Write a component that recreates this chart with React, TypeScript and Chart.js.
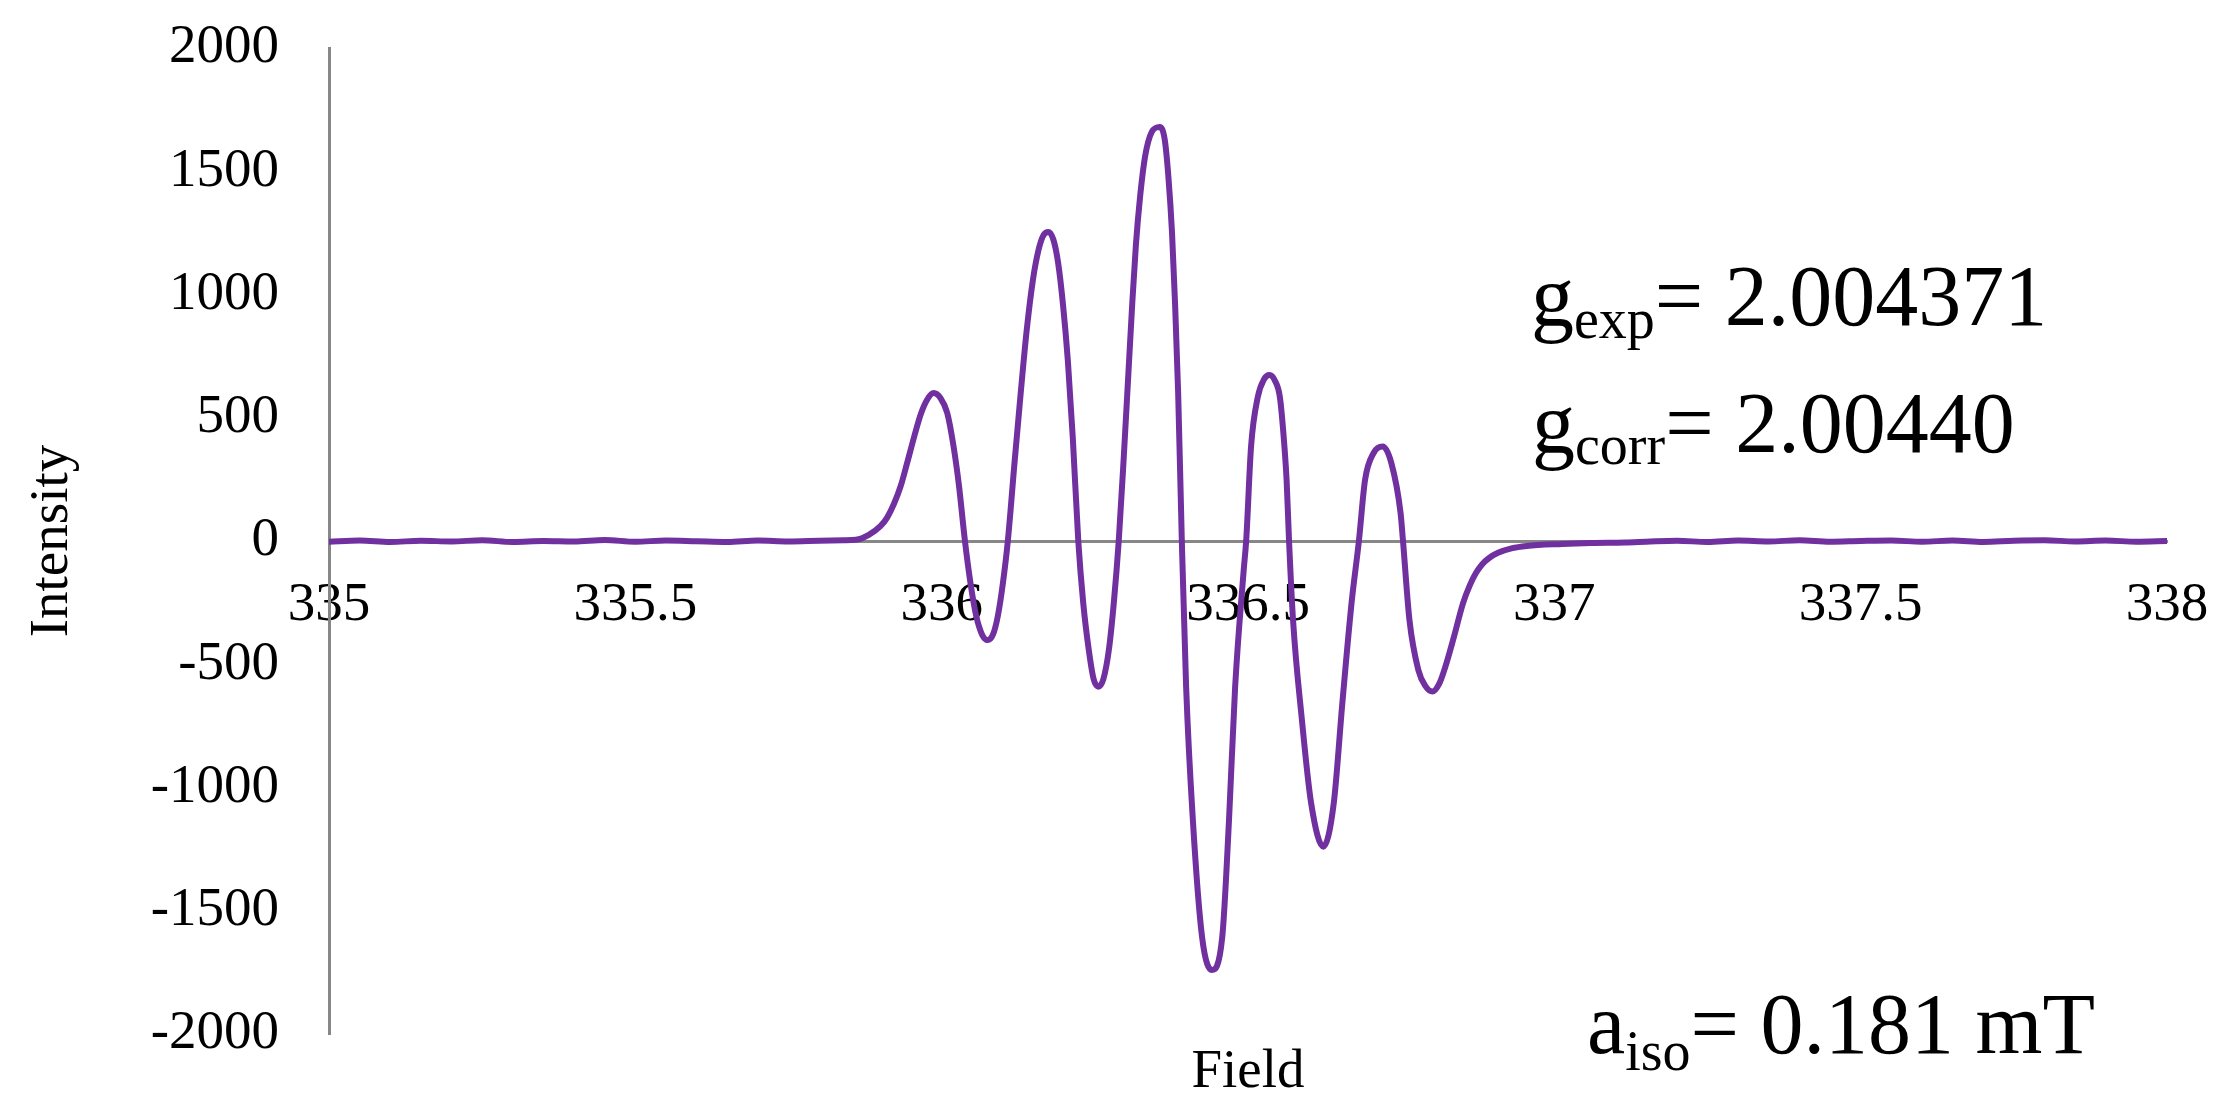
import React, { useEffect, useRef } from "react";
import { Chart, registerables } from "chart.js";

Chart.register(...registerables);

const SERIF = "'Times New Roman', 'Liberation Serif', serif";

// Magnetic field (mT)
const fieldValues = [
  335.0, 335.05, 335.1, 335.15, 335.2, 335.25, 335.3, 335.35, 335.4, 335.45,
  335.5, 335.55, 335.6, 335.65, 335.7, 335.75, 335.8, 335.84,
  335.86, 335.881, 335.9, 335.911, 335.922, 335.933, 335.944, 335.955, 335.966, 335.976,
  335.987, 335.998, 336.009, 336.019, 336.028, 336.038,
  336.047, 336.056, 336.066, 336.075, 336.084, 336.092, 336.1, 336.108,
  336.119, 336.129, 336.139, 336.149, 336.158, 336.166, 336.174, 336.182, 336.19, 336.198, 336.206, 336.214, 336.223,
  336.231, 336.24, 336.248, 336.256, 336.264, 336.273, 336.281, 336.289,
  336.297, 336.305, 336.311, 336.317, 336.324, 336.332, 336.343, 336.356, 336.364, 336.37, 336.376, 336.381, 336.386, 336.392,
  336.399, 336.41, 336.425, 336.441, 336.458, 336.469, 336.479, 336.493, 336.497,
  336.505, 336.516, 336.526, 336.535, 336.544, 336.552, 336.558, 336.563, 336.567,
  336.5735, 336.588, 336.603, 336.623, 336.64, 336.654, 336.669, 336.681,
  336.691, 336.705, 336.72, 336.734, 336.749, 336.753,
  336.7635, 336.778, 336.79, 336.801, 336.812, 336.822, 336.836, 336.851, 336.862, 336.872,
  336.882, 336.893, 336.908, 336.93, 336.955, 337.013, 337.06, 337.115,
  337.15, 337.2, 337.25, 337.3, 337.35, 337.4, 337.45, 337.5, 337.55, 337.6,
  337.65, 337.7, 337.75, 337.8, 337.85, 337.9, 337.95, 338.0,
];

// EPR first-derivative intensity
const intensityValues = [
  -3, 2, -4, 1, -2, 3, -4, 0, -2, 4,
  -3, 2, -1, -4, 2, -2, 1, 3,
  5, 25, 60, 95, 150, 222, 320, 422, 515, 572,
  600, 580, 520, 390, 230, 0,
  -170, -300, -380, -402, -378, -300, -170, 0,
  320, 600, 860, 1060, 1180, 1240, 1254, 1225, 1130, 960, 730, 420, 0,
  -250, -440, -560, -591, -560, -440, -250, 0,
  330, 690, 960, 1200, 1400, 1560, 1660, 1680, 1630, 1480, 1250, 960, 600, 0,
  -592, -1132, -1606, -1740, -1606, -1132, -592, -118, 0,
  383, 584, 655, 673, 650, 584, 430, 247, 0,
  -320, -726, -1063, -1240, -1063, -657, -252, 0,
  247, 357, 383, 316, 114, 0,
  -320, -523, -590, -611, -580, -511, -390, -252, -180, -130,
  -95, -70, -48, -30, -20, -12, -8, -6,
  -3, 1, -4, 2, -2, 3, -3, 0, 2, -3,
  2, -4, 1, 3, -2, 2, -3, 0,
];

const xTickValues = [335, 335.5, 336, 336.5, 337, 337.5, 338];
const yTickValues = [-2000, -1500, -1000, -500, 0, 500, 1000, 1500, 2000];

const xTitleText = "Field";
const yTitleText = "Intensity";

// annotation texts: main symbol, subscript, remainder
const annoMain = ["g", "g", "a"];
const annoSub = ["exp", "corr", "iso"];
const annoRest = ["= 2.004371", "= 2.00440", "= 0.181 mT"];

const annotationPlugin = {
  id: "eprAnnotations",
  afterDraw(chart: any) {
    const ctx = chart.ctx;
    const places = [
      { x: 1531, y: 325, dy: 13 },
      { x: 1532, y: 452, dy: 12 },
      { x: 1587, y: 1053, dy: 17 },
    ];
    ctx.save();
    ctx.fillStyle = "#000";
    ctx.textAlign = "left";
    ctx.textBaseline = "alphabetic";
    for (let i = 0; i < annoMain.length; i++) {
      const p = places[i];
      let x = p.x;
      ctx.font = `86px ${SERIF}`;
      ctx.fillText(annoMain[i], x, p.y);
      x += ctx.measureText(annoMain[i]).width;
      ctx.font = `56px ${SERIF}`;
      ctx.fillText(annoSub[i], x, p.y + p.dy);
      x += ctx.measureText(annoSub[i]).width;
      ctx.font = `86px ${SERIF}`;
      ctx.fillText(annoRest[i], x, p.y);
    }
    ctx.restore();
  },
};

const zeroPadding = (s: any) => {
  s.paddingTop = 0;
  s.paddingBottom = 0;
  s.paddingLeft = 0;
  s.paddingRight = 0;
};

export default function App() {
  const canvasRef = useRef<HTMLCanvasElement | null>(null);

  useEffect(() => {
    if (!canvasRef.current) return;
    const data = fieldValues.map((f, i) => ({ x: f, y: intensityValues[i] }));
    const tickFont = { family: SERIF, size: 55 };
    const chart = new Chart(canvasRef.current, {
      type: "line",
      data: {
        datasets: [
          {
            data,
            borderColor: "#7030A0",
            borderWidth: 6,
            pointRadius: 0,
            cubicInterpolationMode: "monotone",
            fill: false,
            borderJoinStyle: "round",
            borderCapStyle: "round",
          } as any,
        ],
      },
      options: {
        responsive: false,
        animation: false,
        events: [],
        layout: { padding: { top: 48, right: 62, left: 0, bottom: 0 } },
        plugins: { legend: { display: false }, tooltip: { enabled: false } },
        scales: {
          x: {
            type: "linear",
            min: 335,
            max: 338,
            position: { y: 0 } as any,
            afterBuildTicks: (s: any) => {
              s.ticks = xTickValues.map((v) => ({ value: v }));
            },
            afterFit: (s: any) => {
              s.height = 0;
              zeroPadding(s);
            },
            grid: { display: false, drawTicks: false },
            border: { display: true, color: "#878787", width: 3 },
            ticks: {
              color: "#000",
              font: tickFont,
              padding: 32,
              maxRotation: 0,
              minRotation: 0,
              autoSkip: false,
              callback: (v: any) => String(v),
            },
          },
          xTitle: {
            type: "linear",
            axis: "x",
            position: "bottom",
            min: 335,
            max: 338,
            afterFit: (s: any) => {
              s.height = 78;
              zeroPadding(s);
            },
            grid: { display: false, drawTicks: false },
            border: { display: false },
            ticks: { display: false },
            title: {
              display: true,
              text: xTitleText,
              color: "#000",
              font: tickFont,
              padding: { top: 0, bottom: 6 },
            },
          },
          y: {
            type: "linear",
            min: -2000,
            max: 2000,
            position: "left",
            afterBuildTicks: (s: any) => {
              s.ticks = yTickValues.map((v) => ({ value: v }));
            },
            afterFit: (s: any) => {
              s.width = 329;
              zeroPadding(s);
            },
            grid: { display: false, drawTicks: false },
            border: { display: true, color: "#878787", width: 3 },
            ticks: {
              color: "#000",
              font: tickFont,
              padding: 50,
              callback: (v: any) => String(v),
            },
            title: {
              display: true,
              text: yTitleText,
              color: "#000",
              font: tickFont,
              padding: { top: 20, bottom: 0 },
            },
          },
        } as any,
      },
      plugins: [annotationPlugin],
    });
    return () => chart.destroy();
  }, []);

  return (
    <div
      style={{
        position: "fixed",
        left: 0,
        top: 0,
        width: 2229,
        height: 1112,
        background: "#fff",
      }}
    >
      <canvas
        ref={canvasRef}
        width={2229}
        height={1112}
        style={{ display: "block", width: 2229, height: 1112 }}
      />
    </div>
  );
}
